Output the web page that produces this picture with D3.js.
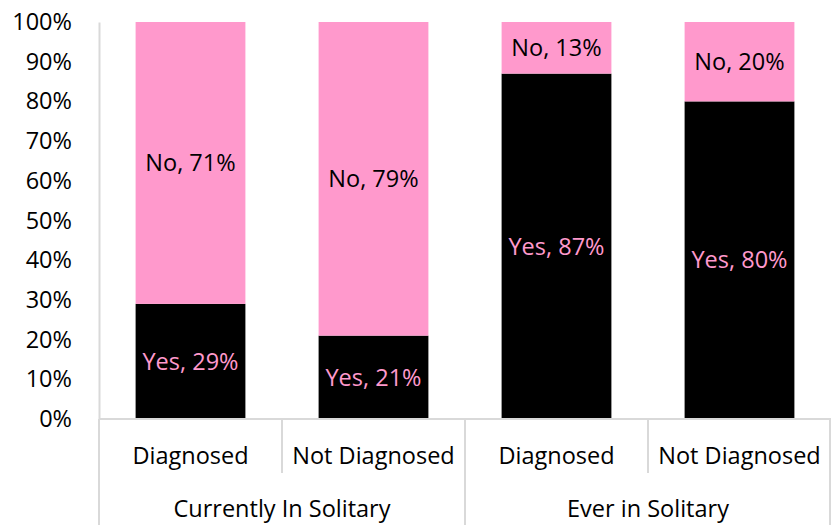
<!DOCTYPE html>
<html>
<head>
<meta charset="utf-8">
<script src="https://cdn.jsdelivr.net/npm/d3@7"></script>
<style>
  html, body { margin: 0; padding: 0; background: #fff; }
  svg { display: block; font-family: "Open Sans", sans-serif; }
</style>
</head>
<body>
<script>
// chart data
const groups = ['Currently In Solitary', 'Ever in Solitary'];
const subCategories = ['Diagnosed', 'Not Diagnosed', 'Diagnosed', 'Not Diagnosed'];
const groupOf = [0, 0, 1, 1];
const yesValues = [29, 21, 87, 80];
const noValues = [71, 79, 13, 20];
const yTicks = [0, 10, 20, 30, 40, 50, 60, 70, 80, 90, 100];

const width = 831, height = 525;
const margin = { left: 99, right: 0, top: 22, bottom: 106 };
const pink = '#FF99CC';
const axisGrey = '#D9D9D9';
const fontSize = 23.5;

const svg = d3.select('body').append('svg')
  .attr('width', width)
  .attr('height', height);

const x = d3.scaleBand()
  .domain(d3.range(subCategories.length))
  .range([margin.left, width - margin.right])
  .paddingInner(0.4)
  .paddingOuter(0.2);

const y = d3.scaleLinear()
  .domain([0, 100])
  .range([height - margin.bottom, margin.top]);

const baseY = y(0);

// stacked bars
const rows = subCategories.map((name, i) => ({ i, yes: yesValues[i], no: noValues[i] }));

svg.append('g').selectAll('rect')
  .data(rows).enter().append('rect')
  .attr('x', d => x(d.i))
  .attr('width', x.bandwidth())
  .attr('y', d => y(d.yes))
  .attr('height', d => y(0) - y(d.yes))
  .attr('fill', '#000');

svg.append('g').selectAll('rect')
  .data(rows).enter().append('rect')
  .attr('x', d => x(d.i))
  .attr('width', x.bandwidth())
  .attr('y', d => y(d.yes + d.no))
  .attr('height', d => y(d.yes) - y(d.yes + d.no))
  .attr('fill', pink);

// data labels
const labels = svg.append('g').attr('font-size', fontSize).attr('text-anchor', 'middle');
labels.selectAll('text.yes')
  .data(rows).enter().append('text')
  .attr('class', 'yes')
  .attr('x', d => x(d.i) + x.bandwidth() / 2)
  .attr('y', d => (y(0) + y(d.yes)) / 2)
  .attr('dy', '0.35em')
  .attr('fill', pink)
  .text(d => `Yes, ${d.yes}%`);
labels.selectAll('text.no')
  .data(rows).enter().append('text')
  .attr('class', 'no')
  .attr('x', d => x(d.i) + x.bandwidth() / 2)
  .attr('y', d => (y(d.yes) + y(d.yes + d.no)) / 2)
  .attr('dy', '0.35em')
  .attr('fill', '#000')
  .text(d => `No, ${d.no}%`);

// y axis
const yAxis = svg.append('g')
  .attr('transform', `translate(${margin.left},0)`)
  .call(d3.axisLeft(y).tickValues(yTicks).tickFormat(d => d + '%').tickSize(0).tickPadding(27));
yAxis.select('.domain').attr('stroke', axisGrey).attr('stroke-width', 2);
yAxis.selectAll('text').attr('font-size', fontSize).attr('fill', '#000')
  .attr('font-family', '"Open Sans", sans-serif');

// category axis (two levels)
const axisG = svg.append('g').attr('stroke', axisGrey).attr('stroke-width', 2);
axisG.append('line')
  .attr('x1', margin.left).attr('x2', width)
  .attr('y1', baseY).attr('y2', baseY);

const step = x.step();
const edge = i => x(i) - x.paddingInner() * step / 2;
d3.range(subCategories.length + 1).forEach(i => {
  const xe = i === subCategories.length ? width - 1 : edge(i);
  const major = i === 0 || i === subCategories.length || groupOf[i] !== groupOf[i - 1];
  axisG.append('line')
    .attr('x1', xe).attr('x2', xe)
    .attr('y1', baseY).attr('y2', major ? height : baseY + 54);
});

svg.append('g').attr('font-size', fontSize).attr('text-anchor', 'middle')
  .selectAll('text').data(subCategories).enter().append('text')
  .attr('x', (d, i) => x(i) + x.bandwidth() / 2)
  .attr('y', baseY + 37)
  .attr('dy', '0.35em')
  .text(d => d);

svg.append('g').attr('font-size', fontSize).attr('text-anchor', 'middle')
  .selectAll('text').data(groups).enter().append('text')
  .attr('x', (d, g) => {
    const idx = d3.range(subCategories.length).filter(i => groupOf[i] === g);
    return (edge(idx[0]) + edge(idx[idx.length - 1]) + step) / 2;
  })
  .attr('y', baseY + 90)
  .attr('dy', '0.35em')
  .text(d => d);
</script>
</body>
</html>
